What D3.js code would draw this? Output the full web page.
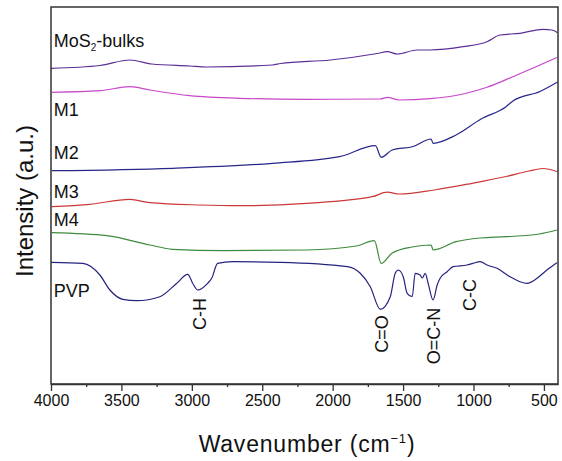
<!DOCTYPE html>
<meta charset="utf-8">
<script src="https://d3js.org/d3.v7.min.js"></script>
<style>
  body { margin: 0; background: #fff; }
  text { font-family: "Liberation Sans", Arial, sans-serif; fill: #111; }
</style>
<body>
<svg id="chart" width="562" height="461"></svg>
<script>

// wavenumber (cm-1) and intensity (a.u., stacked offsets)
var mosWn  = [4000,3653,3440,3284,3015,2895,2427,2370,2016,1683,1612,1541,1400,1308,1074,904,812,670,507,443,403];
var mosVal = [315.7,318.5,324,320,318,317,319,320.5,324,330.5,332.3,330,334,334,337.3,342.3,349,350.7,354.7,354,351.3];

var m1Wn  = [3995,3653,3440,3299,3015,2661,2186,1662,1612,1527,1308,1074,904,720,528,408];
var m1Val = [291.7,293.3,297.3,294,288.3,285.7,284.7,285,286.7,284,285.3,290,296.7,307.3,319,326.5];

var m2Wn  = [3995,3136,2427,1952,1697,1655,1577,1428,1301,1287,1124,946,769,720,528,403];
var m2Val = [213.3,215.7,220.7,227.3,238.3,226.7,234,237.5,245,240.7,249,265,277.3,283,292.5,302];

var m3Wn  = [3995,3724,3440,3299,2944,2661,2186,1719,1612,1527,1279,1010,769,606,507,403];
var m3Val = [177.3,179.7,184.7,181.3,179,178.3,180.7,187.3,191.8,190,194,200.7,207.5,213,215.5,212.3];

var m4Wn  = [3995,3603,3299,3136,2781,2186,1832,1704,1655,1577,1435,1301,1287,1124,953,769,535,408];
var m4Val = [151.3,148.3,139,134.7,133.3,134,138,143.3,120.5,131,137,139,134,142.3,146,147.3,150,154];

var pvpWn  = [4000,3773,3653,3582,3490,3391,3228,3107,3029,2994,2958,2888,2859,2817,2711,2370,1896,1804,1733,1662,1591,1556,1534,1499,1471,1435,1414,1379,1364,1343,1322,1287,1258,1237,1187,1145,1046,1003,953,904,833,741,670,620,549,479,408];
var pvpVal = [121.7,120.7,109,94,84.7,83.3,87.3,100.7,109.7,100.7,94,100.7,105.7,120.7,122.3,121.7,117.3,110.7,97.3,74.7,87.3,110.7,114,107.3,90.7,87.3,110.7,109,106,110.7,100.7,84,99,105.7,112.3,117.3,119,120.7,122.3,119,115.7,107.3,102.3,100.7,105.7,114,121.3];

var seriesNames  = ["MoS2-bulks", "M1", "M2", "M3", "M4", "PVP"];
var seriesColors = ["#5a2f95", "#c846c8", "#27278a", "#cc3838", "#3d8c3d", "#24247e"];
var labelVal     = [337, 268, 225, 186, 158, 87];

var bandNames = ["C-H", "C=O", "O=C-N", "C-C"];
var bandWn    = [2941, 1651, 1282, 1024];
var bandVal   = [70, 50, 48, 89];

var xTicks = [4000, 3500, 3000, 2500, 2000, 1500, 1000, 500];

var svg = d3.select("#chart"),
    width = +svg.attr("width"),
    height = +svg.attr("height");

var margin = {top: 7, right: 4, bottom: 77, left: 51};

var x = d3.scaleLinear()
  .domain([4000, 400])
  .range([margin.left, width - margin.right]);

var y = d3.scaleLinear()
  .domain([0, 377])
  .range([height - margin.bottom, margin.top]);

var allWn  = [mosWn, m1Wn, m2Wn, m3Wn, m4Wn, pvpWn];
var allVal = [mosVal, m1Val, m2Val, m3Val, m4Val, pvpVal];

var line = d3.line()
  .x(function(d) { return x(d[0]); })
  .y(function(d) { return y(d[1]); })
  .curve(d3.curveMonotoneX);

// spectra
allWn.forEach(function(wn, i) {
  var pts = wn.map(function(w, j) { return [w, allVal[i][j]]; });
  svg.append("path")
    .datum(pts)
    .attr("d", line)
    .attr("fill", "none")
    .attr("stroke", seriesColors[i])
    .attr("stroke-width", 1.2);
});

// series labels
seriesNames.forEach(function(name, i) {
  var t = svg.append("text")
    .attr("x", x(3995) + 2)
    .attr("y", y(labelVal[i]))
    .attr("font-size", 18);
  if (name == "MoS2-bulks") {
    t.append("tspan").text("MoS");
    t.append("tspan").text("2").attr("font-size", 10).attr("dy", 4);
    t.append("tspan").text("-bulks").attr("dy", -4);
  } else {
    t.text(name);
  }
});

// band annotations
bandNames.forEach(function(name, i) {
  svg.append("text")
    .attr("transform", "translate(" + x(bandWn[i]) + "," + y(bandVal[i]) + ") rotate(-90)")
    .attr("text-anchor", "middle")
    .attr("dominant-baseline", "central")
    .attr("font-size", 18)
    .text(name);
});

// frame
svg.append("rect")
  .attr("x", margin.left)
  .attr("y", margin.top)
  .attr("width", width - margin.left - margin.right)
  .attr("height", height - margin.top - margin.bottom)
  .attr("fill", "none")
  .attr("stroke", "#333")
  .attr("stroke-width", 1.5);

// bottom axis
var xAxis = svg.append("g")
  .attr("transform", "translate(0," + (height - margin.bottom) + ")")
  .call(d3.axisBottom(x).tickValues(xTicks).tickFormat(d3.format("d"))
    .tickSize(7).tickSizeOuter(0).tickPadding(4));
xAxis.select(".domain").attr("stroke", "#333").attr("stroke-width", 1.5);
xAxis.selectAll(".tick line").attr("stroke", "#333").attr("stroke-width", 1.3);
xAxis.selectAll(".tick text")
  .attr("font-size", 16)
  .attr("font-family", "Liberation Sans, Arial, sans-serif")
  .attr("fill", "#111");

svg.append("g")
  .attr("transform", "translate(0," + (height - margin.bottom) + ")")
  .call(d3.axisBottom(x).tickValues(d3.range(3750, 500, -500)).tickSize(3).tickFormat(""))
  .call(function(g) { g.select(".domain").remove(); })
  .selectAll(".tick line").attr("stroke", "#333").attr("stroke-width", 1.3);

// axis titles
var xTitle = svg.append("text")
  .attr("x", 307)
  .attr("y", 452)
  .attr("text-anchor", "middle")
  .attr("font-size", 23)
  .attr("letter-spacing", 0.8);
xTitle.append("tspan").text("Wavenumber (cm");
xTitle.append("tspan").text("\u22121").attr("font-size", 13).attr("dy", -9);
xTitle.append("tspan").text(")").attr("dy", 9);

svg.append("text")
  .attr("transform", "translate(33,201) rotate(-90)")
  .attr("text-anchor", "middle")
  .attr("font-size", 24)
  .text("Intensity (a.u.)");

</script>
</body>
